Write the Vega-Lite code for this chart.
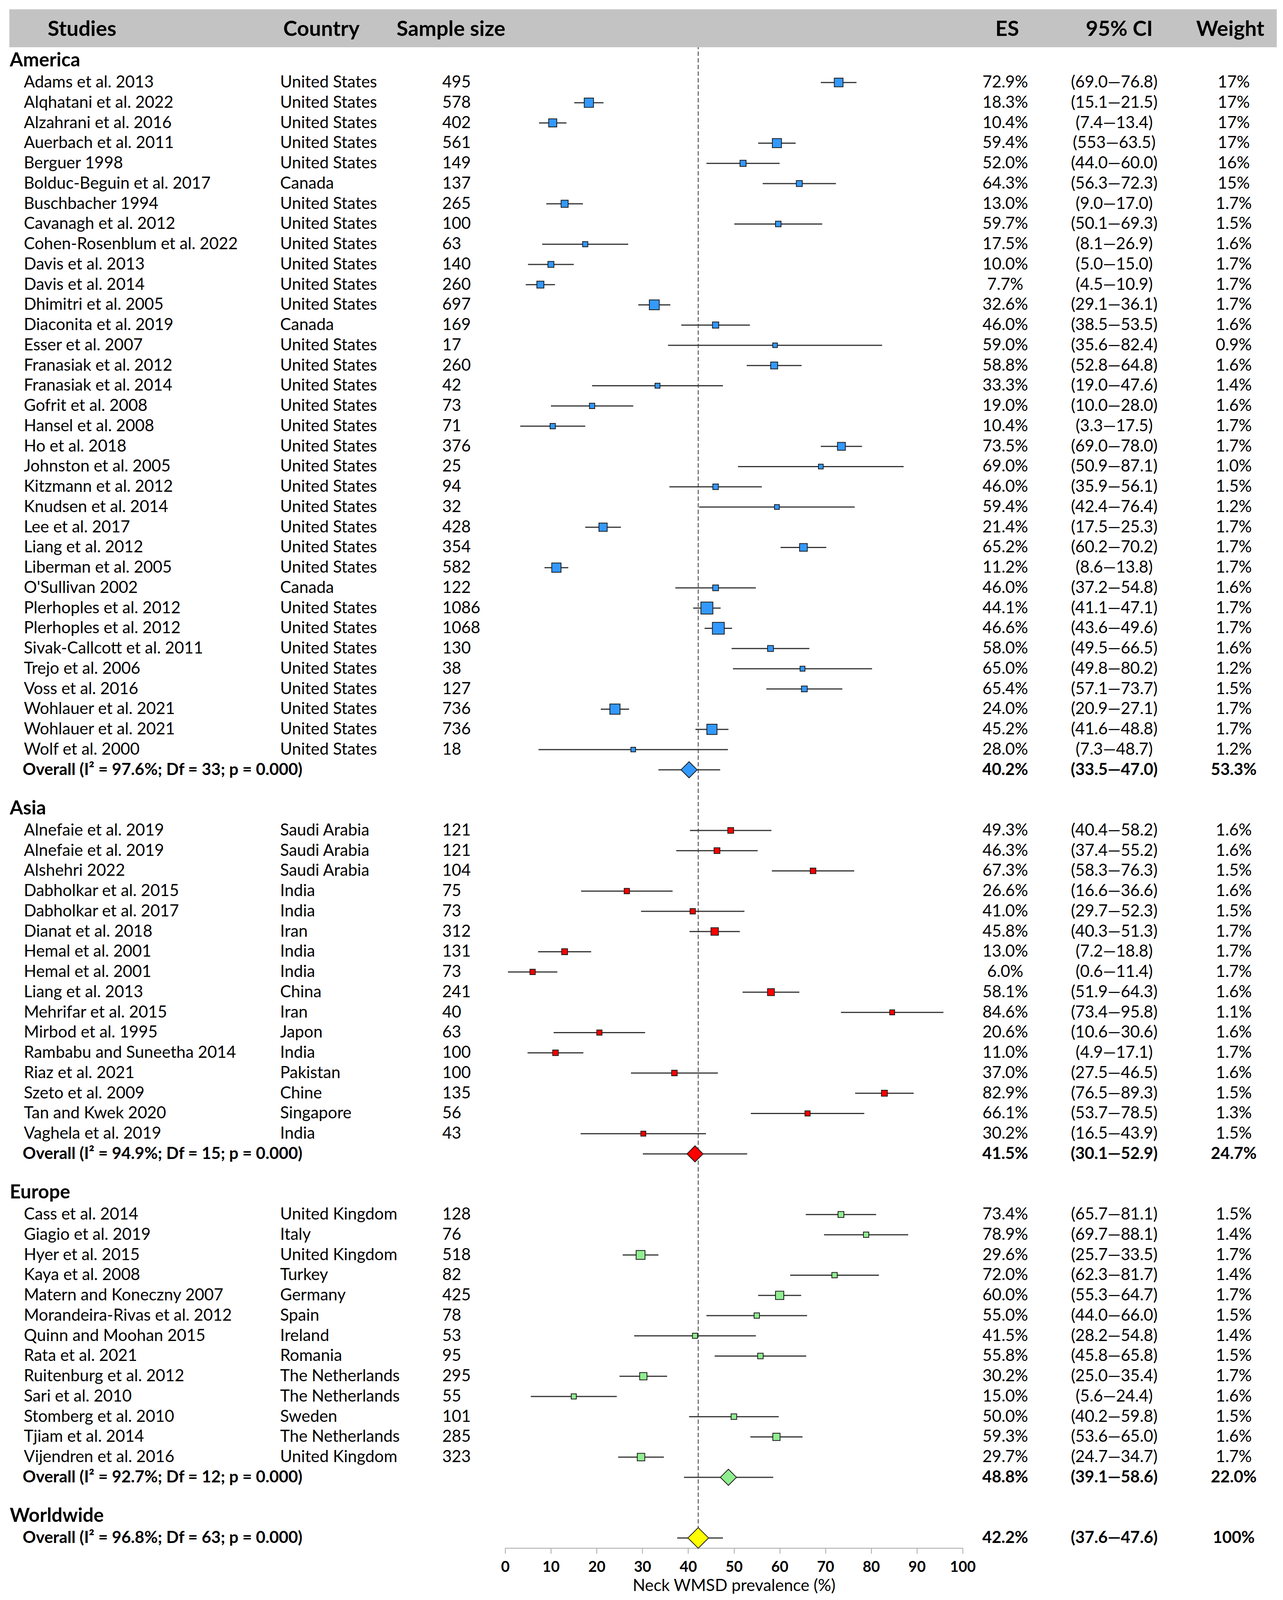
{
  "$schema": "https://vega.github.io/schema/vega-lite/v6.json",
  "padding": {"left": 24, "top": 23, "right": 0, "bottom": 0},
  "background": "white",
  "config": {
    "view": {"stroke": null},
    "concat": {"spacing": 0},
    "font": "Lato",
    "text": {"font": "Lato", "fontSize": 42, "baseline": "middle", "color": "#000000"}
  },
  "spacing": 0,
  "bounds": "flush",
  "data": {
    "values": [
      {"id": 0, "kind": "header", "label": "Studies", "country": "Country", "nlab": "Sample size", "eslab": "ES", "ci": "95% CI", "w": "Weight"},
      {"id": 1, "kind": "gap"},
      {"id": 2, "kind": "group", "label": "America"},
      {"id": 3, "kind": "study", "region": "America", "label": "Adams et al. 2013", "country": "United States", "n": 495, "es": 72.9, "lo": 69.0, "hi": 76.8, "ci": "(69.0—76.8)", "w": "17%"},
      {"id": 4, "kind": "study", "region": "America", "label": "Alqhatani et al. 2022", "country": "United States", "n": 578, "es": 18.3, "lo": 15.1, "hi": 21.5, "ci": "(15.1—21.5)", "w": "17%"},
      {"id": 5, "kind": "study", "region": "America", "label": "Alzahrani et al. 2016", "country": "United States", "n": 402, "es": 10.4, "lo": 7.4, "hi": 13.4, "ci": "(7.4—13.4)", "w": "17%"},
      {"id": 6, "kind": "study", "region": "America", "label": "Auerbach et al. 2011", "country": "United States", "n": 561, "es": 59.4, "lo": 55.3, "hi": 63.5, "ci": "(553—63.5)", "w": "17%"},
      {"id": 7, "kind": "study", "region": "America", "label": "Berguer 1998", "country": "United States", "n": 149, "es": 52.0, "lo": 44.0, "hi": 60.0, "ci": "(44.0—60.0)", "w": "16%"},
      {"id": 8, "kind": "study", "region": "America", "label": "Bolduc-Beguin et al. 2017", "country": "Canada", "n": 137, "es": 64.3, "lo": 56.3, "hi": 72.3, "ci": "(56.3—72.3)", "w": "15%"},
      {"id": 9, "kind": "study", "region": "America", "label": "Buschbacher 1994", "country": "United States", "n": 265, "es": 13.0, "lo": 9.0, "hi": 17.0, "ci": "(9.0—17.0)", "w": "1.7%"},
      {"id": 10, "kind": "study", "region": "America", "label": "Cavanagh et al. 2012", "country": "United States", "n": 100, "es": 59.7, "lo": 50.1, "hi": 69.3, "ci": "(50.1—69.3)", "w": "1.5%"},
      {"id": 11, "kind": "study", "region": "America", "label": "Cohen-Rosenblum et al. 2022", "country": "United States", "n": 63, "es": 17.5, "lo": 8.1, "hi": 26.9, "ci": "(8.1—26.9)", "w": "1.6%"},
      {"id": 12, "kind": "study", "region": "America", "label": "Davis et al. 2013", "country": "United States", "n": 140, "es": 10.0, "lo": 5.0, "hi": 15.0, "ci": "(5.0—15.0)", "w": "1.7%"},
      {"id": 13, "kind": "study", "region": "America", "label": "Davis et al. 2014", "country": "United States", "n": 260, "es": 7.7, "lo": 4.5, "hi": 10.9, "ci": "(4.5—10.9)", "w": "1.7%"},
      {"id": 14, "kind": "study", "region": "America", "label": "Dhimitri et al. 2005", "country": "United States", "n": 697, "es": 32.6, "lo": 29.1, "hi": 36.1, "ci": "(29.1—36.1)", "w": "1.7%"},
      {"id": 15, "kind": "study", "region": "America", "label": "Diaconita et al. 2019", "country": "Canada", "n": 169, "es": 46.0, "lo": 38.5, "hi": 53.5, "ci": "(38.5—53.5)", "w": "1.6%"},
      {"id": 16, "kind": "study", "region": "America", "label": "Esser et al. 2007", "country": "United States", "n": 17, "es": 59.0, "lo": 35.6, "hi": 82.4, "ci": "(35.6—82.4)", "w": "0.9%"},
      {"id": 17, "kind": "study", "region": "America", "label": "Franasiak et al. 2012", "country": "United States", "n": 260, "es": 58.8, "lo": 52.8, "hi": 64.8, "ci": "(52.8—64.8)", "w": "1.6%"},
      {"id": 18, "kind": "study", "region": "America", "label": "Franasiak et al. 2014", "country": "United States", "n": 42, "es": 33.3, "lo": 19.0, "hi": 47.6, "ci": "(19.0—47.6)", "w": "1.4%"},
      {"id": 19, "kind": "study", "region": "America", "label": "Gofrit et al. 2008", "country": "United States", "n": 73, "es": 19.0, "lo": 10.0, "hi": 28.0, "ci": "(10.0—28.0)", "w": "1.6%"},
      {"id": 20, "kind": "study", "region": "America", "label": "Hansel et al. 2008", "country": "United States", "n": 71, "es": 10.4, "lo": 3.3, "hi": 17.5, "ci": "(3.3—17.5)", "w": "1.7%"},
      {"id": 21, "kind": "study", "region": "America", "label": "Ho et al. 2018", "country": "United States", "n": 376, "es": 73.5, "lo": 69.0, "hi": 78.0, "ci": "(69.0—78.0)", "w": "1.7%"},
      {"id": 22, "kind": "study", "region": "America", "label": "Johnston et al. 2005", "country": "United States", "n": 25, "es": 69.0, "lo": 50.9, "hi": 87.1, "ci": "(50.9—87.1)", "w": "1.0%"},
      {"id": 23, "kind": "study", "region": "America", "label": "Kitzmann et al. 2012", "country": "United States", "n": 94, "es": 46.0, "lo": 35.9, "hi": 56.1, "ci": "(35.9—56.1)", "w": "1.5%"},
      {"id": 24, "kind": "study", "region": "America", "label": "Knudsen et al. 2014", "country": "United States", "n": 32, "es": 59.4, "lo": 42.4, "hi": 76.4, "ci": "(42.4—76.4)", "w": "1.2%"},
      {"id": 25, "kind": "study", "region": "America", "label": "Lee et al. 2017", "country": "United States", "n": 428, "es": 21.4, "lo": 17.5, "hi": 25.3, "ci": "(17.5—25.3)", "w": "1.7%"},
      {"id": 26, "kind": "study", "region": "America", "label": "Liang et al. 2012", "country": "United States", "n": 354, "es": 65.2, "lo": 60.2, "hi": 70.2, "ci": "(60.2—70.2)", "w": "1.7%"},
      {"id": 27, "kind": "study", "region": "America", "label": "Liberman et al. 2005", "country": "United States", "n": 582, "es": 11.2, "lo": 8.6, "hi": 13.8, "ci": "(8.6—13.8)", "w": "1.7%"},
      {"id": 28, "kind": "study", "region": "America", "label": "O'Sullivan 2002", "country": "Canada", "n": 122, "es": 46.0, "lo": 37.2, "hi": 54.8, "ci": "(37.2—54.8)", "w": "1.6%"},
      {"id": 29, "kind": "study", "region": "America", "label": "Plerhoples et al. 2012", "country": "United States", "n": 1086, "es": 44.1, "lo": 41.1, "hi": 47.1, "ci": "(41.1—47.1)", "w": "1.7%"},
      {"id": 30, "kind": "study", "region": "America", "label": "Plerhoples et al. 2012", "country": "United States", "n": 1068, "es": 46.6, "lo": 43.6, "hi": 49.6, "ci": "(43.6—49.6)", "w": "1.7%"},
      {"id": 31, "kind": "study", "region": "America", "label": "Sivak-Callcott et al. 2011", "country": "United States", "n": 130, "es": 58.0, "lo": 49.5, "hi": 66.5, "ci": "(49.5—66.5)", "w": "1.6%"},
      {"id": 32, "kind": "study", "region": "America", "label": "Trejo et al. 2006", "country": "United States", "n": 38, "es": 65.0, "lo": 49.8, "hi": 80.2, "ci": "(49.8—80.2)", "w": "1.2%"},
      {"id": 33, "kind": "study", "region": "America", "label": "Voss et al. 2016", "country": "United States", "n": 127, "es": 65.4, "lo": 57.1, "hi": 73.7, "ci": "(57.1—73.7)", "w": "1.5%"},
      {"id": 34, "kind": "study", "region": "America", "label": "Wohlauer et al. 2021", "country": "United States", "n": 736, "es": 24.0, "lo": 20.9, "hi": 27.1, "ci": "(20.9—27.1)", "w": "1.7%"},
      {"id": 35, "kind": "study", "region": "America", "label": "Wohlauer et al. 2021", "country": "United States", "n": 736, "es": 45.2, "lo": 41.6, "hi": 48.8, "ci": "(41.6—48.8)", "w": "1.7%"},
      {"id": 36, "kind": "study", "region": "America", "label": "Wolf et al. 2000", "country": "United States", "n": 18, "es": 28.0, "lo": 7.3, "hi": 48.7, "ci": "(7.3—48.7)", "w": "1.2%"},
      {"id": 37, "kind": "overall", "region": "America", "label": "Overall (I² = 97.6%; Df = 33; p = 0.000)", "es": 40.2, "lo": 33.5, "hi": 47.0, "ci": "(33.5—47.0)", "w": "53.3%"},
      {"id": 38, "kind": "gap"},
      {"id": 39, "kind": "group", "label": "Asia"},
      {"id": 40, "kind": "study", "region": "Asia", "label": "Alnefaie et al. 2019", "country": "Saudi Arabia", "n": 121, "es": 49.3, "lo": 40.4, "hi": 58.2, "ci": "(40.4—58.2)", "w": "1.6%"},
      {"id": 41, "kind": "study", "region": "Asia", "label": "Alnefaie et al. 2019", "country": "Saudi Arabia", "n": 121, "es": 46.3, "lo": 37.4, "hi": 55.2, "ci": "(37.4—55.2)", "w": "1.6%"},
      {"id": 42, "kind": "study", "region": "Asia", "label": "Alshehri 2022", "country": "Saudi Arabia", "n": 104, "es": 67.3, "lo": 58.3, "hi": 76.3, "ci": "(58.3—76.3)", "w": "1.5%"},
      {"id": 43, "kind": "study", "region": "Asia", "label": "Dabholkar et al. 2015", "country": "India", "n": 75, "es": 26.6, "lo": 16.6, "hi": 36.6, "ci": "(16.6—36.6)", "w": "1.6%"},
      {"id": 44, "kind": "study", "region": "Asia", "label": "Dabholkar et al. 2017", "country": "India", "n": 73, "es": 41.0, "lo": 29.7, "hi": 52.3, "ci": "(29.7—52.3)", "w": "1.5%"},
      {"id": 45, "kind": "study", "region": "Asia", "label": "Dianat et al. 2018", "country": "Iran", "n": 312, "es": 45.8, "lo": 40.3, "hi": 51.3, "ci": "(40.3—51.3)", "w": "1.7%"},
      {"id": 46, "kind": "study", "region": "Asia", "label": "Hemal et al. 2001", "country": "India", "n": 131, "es": 13.0, "lo": 7.2, "hi": 18.8, "ci": "(7.2—18.8)", "w": "1.7%"},
      {"id": 47, "kind": "study", "region": "Asia", "label": "Hemal et al. 2001", "country": "India", "n": 73, "es": 6.0, "lo": 0.6, "hi": 11.4, "ci": "(0.6—11.4)", "w": "1.7%"},
      {"id": 48, "kind": "study", "region": "Asia", "label": "Liang et al. 2013", "country": "China", "n": 241, "es": 58.1, "lo": 51.9, "hi": 64.3, "ci": "(51.9—64.3)", "w": "1.6%"},
      {"id": 49, "kind": "study", "region": "Asia", "label": "Mehrifar et al. 2015", "country": "Iran", "n": 40, "es": 84.6, "lo": 73.4, "hi": 95.8, "ci": "(73.4—95.8)", "w": "1.1%"},
      {"id": 50, "kind": "study", "region": "Asia", "label": "Mirbod et al. 1995", "country": "Japon", "n": 63, "es": 20.6, "lo": 10.6, "hi": 30.6, "ci": "(10.6—30.6)", "w": "1.6%"},
      {"id": 51, "kind": "study", "region": "Asia", "label": "Rambabu and Suneetha 2014", "country": "India", "n": 100, "es": 11.0, "lo": 4.9, "hi": 17.1, "ci": "(4.9—17.1)", "w": "1.7%"},
      {"id": 52, "kind": "study", "region": "Asia", "label": "Riaz et al. 2021", "country": "Pakistan", "n": 100, "es": 37.0, "lo": 27.5, "hi": 46.5, "ci": "(27.5—46.5)", "w": "1.6%"},
      {"id": 53, "kind": "study", "region": "Asia", "label": "Szeto et al. 2009", "country": "Chine", "n": 135, "es": 82.9, "lo": 76.5, "hi": 89.3, "ci": "(76.5—89.3)", "w": "1.5%"},
      {"id": 54, "kind": "study", "region": "Asia", "label": "Tan and Kwek 2020", "country": "Singapore", "n": 56, "es": 66.1, "lo": 53.7, "hi": 78.5, "ci": "(53.7—78.5)", "w": "1.3%"},
      {"id": 55, "kind": "study", "region": "Asia", "label": "Vaghela et al. 2019", "country": "India", "n": 43, "es": 30.2, "lo": 16.5, "hi": 43.9, "ci": "(16.5—43.9)", "w": "1.5%"},
      {"id": 56, "kind": "overall", "region": "Asia", "label": "Overall (I² = 94.9%; Df = 15; p = 0.000)", "es": 41.5, "lo": 30.1, "hi": 52.9, "ci": "(30.1—52.9)", "w": "24.7%"},
      {"id": 57, "kind": "gap"},
      {"id": 58, "kind": "group", "label": "Europe"},
      {"id": 59, "kind": "study", "region": "Europe", "label": "Cass et al. 2014", "country": "United Kingdom", "n": 128, "es": 73.4, "lo": 65.7, "hi": 81.1, "ci": "(65.7—81.1)", "w": "1.5%"},
      {"id": 60, "kind": "study", "region": "Europe", "label": "Giagio et al. 2019", "country": "Italy", "n": 76, "es": 78.9, "lo": 69.7, "hi": 88.1, "ci": "(69.7—88.1)", "w": "1.4%"},
      {"id": 61, "kind": "study", "region": "Europe", "label": "Hyer et al. 2015", "country": "United Kingdom", "n": 518, "es": 29.6, "lo": 25.7, "hi": 33.5, "ci": "(25.7—33.5)", "w": "1.7%"},
      {"id": 62, "kind": "study", "region": "Europe", "label": "Kaya et al. 2008", "country": "Turkey", "n": 82, "es": 72.0, "lo": 62.3, "hi": 81.7, "ci": "(62.3—81.7)", "w": "1.4%"},
      {"id": 63, "kind": "study", "region": "Europe", "label": "Matern and Koneczny 2007", "country": "Germany", "n": 425, "es": 60.0, "lo": 55.3, "hi": 64.7, "ci": "(55.3—64.7)", "w": "1.7%"},
      {"id": 64, "kind": "study", "region": "Europe", "label": "Morandeira-Rivas et al. 2012", "country": "Spain", "n": 78, "es": 55.0, "lo": 44.0, "hi": 66.0, "ci": "(44.0—66.0)", "w": "1.5%"},
      {"id": 65, "kind": "study", "region": "Europe", "label": "Quinn and Moohan 2015", "country": "Ireland", "n": 53, "es": 41.5, "lo": 28.2, "hi": 54.8, "ci": "(28.2—54.8)", "w": "1.4%"},
      {"id": 66, "kind": "study", "region": "Europe", "label": "Rata et al. 2021", "country": "Romania", "n": 95, "es": 55.8, "lo": 45.8, "hi": 65.8, "ci": "(45.8—65.8)", "w": "1.5%"},
      {"id": 67, "kind": "study", "region": "Europe", "label": "Ruitenburg et al. 2012", "country": "The Netherlands", "n": 295, "es": 30.2, "lo": 25.0, "hi": 35.4, "ci": "(25.0—35.4)", "w": "1.7%"},
      {"id": 68, "kind": "study", "region": "Europe", "label": "Sari et al. 2010", "country": "The Netherlands", "n": 55, "es": 15.0, "lo": 5.6, "hi": 24.4, "ci": "(5.6—24.4)", "w": "1.6%"},
      {"id": 69, "kind": "study", "region": "Europe", "label": "Stomberg et al. 2010", "country": "Sweden", "n": 101, "es": 50.0, "lo": 40.2, "hi": 59.8, "ci": "(40.2—59.8)", "w": "1.5%"},
      {"id": 70, "kind": "study", "region": "Europe", "label": "Tjiam et al. 2014", "country": "The Netherlands", "n": 285, "es": 59.3, "lo": 53.6, "hi": 65.0, "ci": "(53.6—65.0)", "w": "1.6%"},
      {"id": 71, "kind": "study", "region": "Europe", "label": "Vijendren et al. 2016", "country": "United Kingdom", "n": 323, "es": 29.7, "lo": 24.7, "hi": 34.7, "ci": "(24.7—34.7)", "w": "1.7%"},
      {"id": 72, "kind": "overall", "region": "Europe", "label": "Overall (I² = 92.7%; Df = 12; p = 0.000)", "es": 48.8, "lo": 39.1, "hi": 58.6, "ci": "(39.1—58.6)", "w": "22.0%"},
      {"id": 73, "kind": "gap"},
      {"id": 74, "kind": "group", "label": "Worldwide"},
      {"id": 75, "kind": "world", "region": "Worldwide", "label": "Overall (I² = 96.8%; Df = 63; p = 0.000)", "es": 42.2, "lo": 37.6, "hi": 47.6, "ci": "(37.6—47.6)", "w": "100%"}
    ]
  },
  "hconcat": [
    {
      "width": 1269,
      "height": 3933,
      "layer": [
        {
          "transform": [{"filter": "datum.kind == 'header'"}],
          "mark": {"type": "rect", "color": "#c3c3c3"},
          "encoding": {
            "y": {"field": "id", "type": "ordinal", "bandPosition": -0.12, "axis": null, "scale": {"domain": [0,1,2,3,4,5,6,7,8,9,10,11,12,13,14,15,16,17,18,19,20,21,22,23,24,25,26,27,28,29,30,31,32,33,34,35,36,37,38,39,40,41,42,43,44,45,46,47,48,49,50,51,52,53,54,55,56,57,58,59,60,61,62,63,64,65,66,67,68,69,70,71,72,73,74,75], "paddingInner": 0, "paddingOuter": 0}},
            "y2": {"field": "id", "bandPosition": 1.76},
            "x": {"value": 0},
            "x2": {"value": "width"}
          }
        },
        {
          "transform": [{"filter": "datum.kind == 'header'"}],
          "mark": {"type": "text", "align": "left", "fontSize": 54, "fontWeight": "bold"},
          "encoding": {
            "y": {"field": "id", "type": "ordinal", "bandPosition": 0.88, "axis": null},
            "x": {"value": 98},
            "text": {"field": "label"}
          }
        },
        {
          "transform": [{"filter": "datum.kind == 'header'"}],
          "mark": {"type": "text", "align": "left", "fontSize": 54, "fontWeight": "bold"},
          "encoding": {
            "y": {"field": "id", "type": "ordinal", "bandPosition": 0.88, "axis": null},
            "x": {"value": 701},
            "text": {"field": "country"}
          }
        },
        {
          "transform": [{"filter": "datum.kind == 'header'"}],
          "mark": {"type": "text", "align": "left", "fontSize": 54, "fontWeight": "bold"},
          "encoding": {
            "y": {"field": "id", "type": "ordinal", "bandPosition": 0.88, "axis": null},
            "x": {"value": 991},
            "text": {"field": "nlab"}
          }
        },
        {
          "transform": [{"filter": "datum.kind == 'group'"}],
          "mark": {"type": "text", "align": "left", "fontSize": 49, "fontWeight": "bold", "dy": -4},
          "encoding": {
            "y": {"field": "id", "type": "ordinal", "axis": null},
            "x": {"value": 1},
            "text": {"field": "label"}
          }
        },
        {
          "transform": [{"filter": "datum.kind == 'study'"}],
          "mark": {"type": "text", "align": "left"},
          "encoding": {
            "y": {"field": "id", "type": "ordinal", "axis": null},
            "x": {"value": 37},
            "text": {"field": "label"}
          }
        },
        {
          "transform": [{"filter": "datum.kind == 'study'"}],
          "mark": {"type": "text", "align": "left"},
          "encoding": {
            "y": {"field": "id", "type": "ordinal", "axis": null},
            "x": {"value": 693},
            "text": {"field": "country"}
          }
        },
        {
          "transform": [{"filter": "datum.kind == 'study'"}],
          "mark": {"type": "text", "align": "left"},
          "encoding": {
            "y": {"field": "id", "type": "ordinal", "axis": null},
            "x": {"value": 1108},
            "text": {"field": "n", "type": "quantitative", "format": "d"}
          }
        },
        {
          "transform": [{"filter": "datum.kind == 'overall' || datum.kind == 'world'"}],
          "mark": {"type": "text", "align": "left", "fontWeight": "bold"},
          "encoding": {
            "y": {"field": "id", "type": "ordinal", "axis": null},
            "x": {"value": 34},
            "text": {"field": "label"}
          }
        }
      ]
    },
    {
      "width": 1171,
      "height": 3933,
      "layer": [
        {
          "transform": [{"filter": "datum.kind == 'world'"}],
          "mark": {"type": "rule", "strokeDash": [11, 6], "strokeWidth": 1.8, "color": "#1e1e1e"},
          "encoding": {
            "x": {
              "field": "es", "type": "quantitative",
              "scale": {"domain": [0, 100], "nice": false, "zero": false},
              "axis": {
                "title": "Neck WMSD prevalence (%)",
                "values": [0, 10, 20, 30, 40, 50, 60, 70, 80, 90, 100],
                "grid": false,
                "domainColor": "#a6a6a6", "domainWidth": 2,
                "tickColor": "#a6a6a6", "tickWidth": 2, "tickSize": 14,
                "labelFont": "Lato", "labelFontSize": 38, "labelFontWeight": "bold", "labelColor": "#000000",
                "labelPadding": 16, "labelOverlap": false, "labelFlush": false,
                "titleFont": "Lato", "titleFontSize": 42, "titleFontWeight": "normal", "titleColor": "#000000",
                "titlePadding": 8
              }
            }
          }
        },
        {
          "transform": [{"filter": "datum.kind == 'header'"}],
          "mark": {"type": "rect", "color": "#c3c3c3"},
          "encoding": {
            "y": {"field": "id", "type": "ordinal", "bandPosition": -0.12, "axis": null, "scale": {"domain": [0,1,2,3,4,5,6,7,8,9,10,11,12,13,14,15,16,17,18,19,20,21,22,23,24,25,26,27,28,29,30,31,32,33,34,35,36,37,38,39,40,41,42,43,44,45,46,47,48,49,50,51,52,53,54,55,56,57,58,59,60,61,62,63,64,65,66,67,68,69,70,71,72,73,74,75], "paddingInner": 0, "paddingOuter": 0}},
            "y2": {"field": "id", "bandPosition": 1.76},
            "x": {"value": 0},
            "x2": {"value": "width"}
          }
        },
        {
          "transform": [{"filter": "datum.kind == 'study' || datum.kind == 'overall' || datum.kind == 'world'"}],
          "mark": {"type": "rule", "color": "#333333", "strokeWidth": 3},
          "encoding": {
            "y": {"field": "id", "type": "ordinal", "axis": null},
            "x": {"field": "lo", "type": "quantitative"},
            "x2": {"field": "hi"}
          }
        },
        {
          "transform": [{"filter": "datum.kind == 'study'"}],
          "mark": {"type": "point", "shape": "square", "filled": true, "opacity": 1, "stroke": "#1a1a1a", "strokeWidth": 2},
          "encoding": {
            "y": {"field": "id", "type": "ordinal", "axis": null},
            "x": {"field": "es", "type": "quantitative"},
            "size": {"field": "n", "type": "quantitative", "scale": {"domain": [0, 1100], "range": [130, 950]}, "legend": null},
            "color": {"field": "region", "type": "nominal", "scale": {"domain": ["America", "Asia", "Europe", "Worldwide"], "range": ["#3399ff", "#ff0000", "#90ee90", "#ffff00"]}, "legend": null}
          }
        },
        {
          "transform": [{"filter": "datum.kind == 'overall'"}],
          "mark": {"type": "point", "shape": "diamond", "filled": true, "opacity": 1, "size": 1700, "stroke": "#1a1a1a", "strokeWidth": 2},
          "encoding": {
            "y": {"field": "id", "type": "ordinal", "axis": null},
            "x": {"field": "es", "type": "quantitative"},
            "color": {"field": "region", "type": "nominal", "legend": null}
          }
        },
        {
          "transform": [{"filter": "datum.kind == 'world'"}],
          "mark": {"type": "point", "shape": "diamond", "filled": true, "opacity": 1, "size": 2800, "stroke": "#1a1a1a", "strokeWidth": 2},
          "encoding": {
            "y": {"field": "id", "type": "ordinal", "axis": null},
            "x": {"field": "es", "type": "quantitative"},
            "color": {"field": "region", "type": "nominal", "legend": null}
          }
        }
      ]
    },
    {
      "width": 804,
      "height": 3933,
      "transform": [{"calculate": "isValid(datum.es) ? format(datum.es, '.1f') + '%' : ''", "as": "esTxt"}],
      "layer": [
        {
          "transform": [{"filter": "datum.kind == 'header'"}],
          "mark": {"type": "rect", "color": "#c3c3c3"},
          "encoding": {
            "y": {"field": "id", "type": "ordinal", "bandPosition": -0.12, "axis": null, "scale": {"domain": [0,1,2,3,4,5,6,7,8,9,10,11,12,13,14,15,16,17,18,19,20,21,22,23,24,25,26,27,28,29,30,31,32,33,34,35,36,37,38,39,40,41,42,43,44,45,46,47,48,49,50,51,52,53,54,55,56,57,58,59,60,61,62,63,64,65,66,67,68,69,70,71,72,73,74,75], "paddingInner": 0, "paddingOuter": 0}},
            "y2": {"field": "id", "bandPosition": 1.76},
            "x": {"value": 0},
            "x2": {"value": "width"}
          }
        },
        {
          "transform": [{"filter": "datum.kind == 'header'"}],
          "mark": {"type": "text", "align": "center", "fontSize": 54, "fontWeight": "bold"},
          "encoding": {
            "y": {"field": "id", "type": "ordinal", "bandPosition": 0.88, "axis": null},
            "x": {"value": 114},
            "text": {"field": "eslab"}
          }
        },
        {
          "transform": [{"filter": "datum.kind == 'header'"}],
          "mark": {"type": "text", "align": "center", "fontSize": 54, "fontWeight": "bold"},
          "encoding": {
            "y": {"field": "id", "type": "ordinal", "bandPosition": 0.88, "axis": null},
            "x": {"value": 401},
            "text": {"field": "ci"}
          }
        },
        {
          "transform": [{"filter": "datum.kind == 'header'"}],
          "mark": {"type": "text", "align": "center", "fontSize": 54, "fontWeight": "bold"},
          "encoding": {
            "y": {"field": "id", "type": "ordinal", "bandPosition": 0.88, "axis": null},
            "x": {"value": 685},
            "text": {"field": "w"}
          }
        },
        {
          "transform": [{"filter": "datum.kind == 'study'"}],
          "mark": {"type": "text", "align": "center"},
          "encoding": {
            "y": {"field": "id", "type": "ordinal", "axis": null},
            "x": {"value": 109},
            "text": {"field": "esTxt"}
          }
        },
        {
          "transform": [{"filter": "datum.kind == 'study'"}],
          "mark": {"type": "text", "align": "center"},
          "encoding": {
            "y": {"field": "id", "type": "ordinal", "axis": null},
            "x": {"value": 388},
            "text": {"field": "ci"}
          }
        },
        {
          "transform": [{"filter": "datum.kind == 'study'"}],
          "mark": {"type": "text", "align": "center"},
          "encoding": {
            "y": {"field": "id", "type": "ordinal", "axis": null},
            "x": {"value": 694},
            "text": {"field": "w"}
          }
        },
        {
          "transform": [{"filter": "datum.kind == 'overall' || datum.kind == 'world'"}],
          "mark": {"type": "text", "align": "center", "fontWeight": "bold"},
          "encoding": {
            "y": {"field": "id", "type": "ordinal", "axis": null},
            "x": {"value": 109},
            "text": {"field": "esTxt"}
          }
        },
        {
          "transform": [{"filter": "datum.kind == 'overall' || datum.kind == 'world'"}],
          "mark": {"type": "text", "align": "center", "fontWeight": "bold"},
          "encoding": {
            "y": {"field": "id", "type": "ordinal", "axis": null},
            "x": {"value": 388},
            "text": {"field": "ci"}
          }
        },
        {
          "transform": [{"filter": "datum.kind == 'overall' || datum.kind == 'world'"}],
          "mark": {"type": "text", "align": "center", "fontWeight": "bold"},
          "encoding": {
            "y": {"field": "id", "type": "ordinal", "axis": null},
            "x": {"value": 694},
            "text": {"field": "w"}
          }
        }
      ]
    }
  ]
}
